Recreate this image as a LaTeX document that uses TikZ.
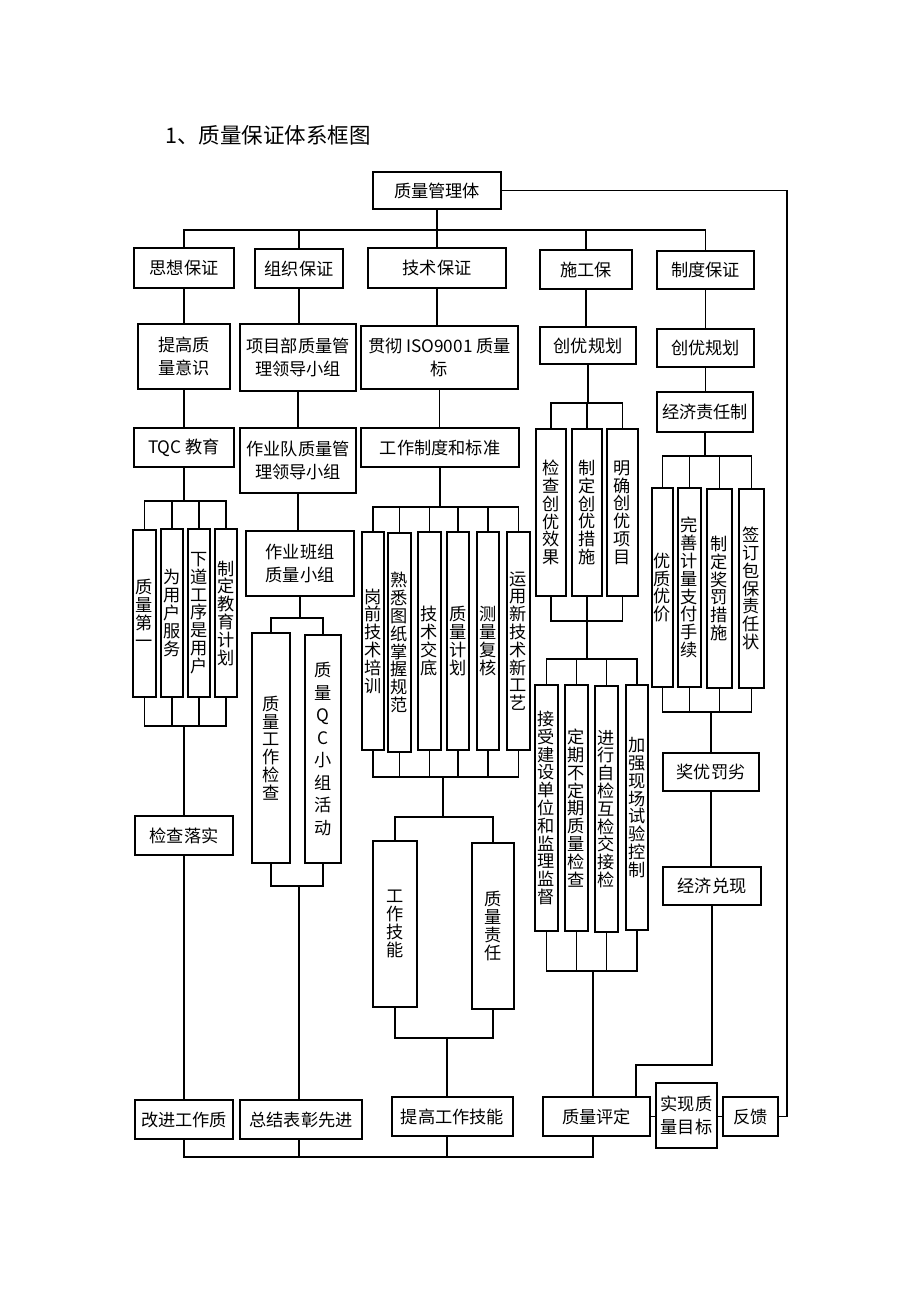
\documentclass[tikz,border=0pt]{standalone}
\usepackage{fontspec}
\newfontfamily\cjk{Noto Sans CJK SC}
\tikzset{
  bx/.style={draw, line width=1.3pt, inner sep=0pt, align=center, font=\cjk\fontsize{17.2}{23}\selectfont},
  vb/.style={bx, font=\cjk\fontsize{17.2}{17.8}\selectfont},
  vbq/.style={bx, font=\cjk\fontsize{17.2}{22.5}\selectfont},
  ln/.style={line width=1.3pt, line cap=rect},
}
\newcommand{\mybox}[7]{\node[#1, minimum width={(#5-#3)*1pt}, minimum height={(#6-#4)*1pt}] (#2) at ({(#3+#5)/2},{(#4+#6)/2}) {#7};}
\newcommand{\fanout}[5]{%
  \coordinate (fy) at (0,#2);
  \draw[ln] (#1.south) -- (#1.south |- fy);
  \draw[ln] (#3.north) |- (#4.north |- fy) -- (#4.north);
  \foreach \c in {#5} {\draw[ln] (\c.north) -- (\c.north |- fy);}
}
\newcommand{\fanin}[4]{%
  \coordinate (fy) at (0,#1);
  \draw[ln] (#2.south) |- (#3.south |- fy) -- (#3.south);
  \foreach \c in {#4} {\draw[ln] (\c.south) -- (\c.south |- fy);}
}
\newcommand{\vdown}[2]{\draw[ln] (#1.south) -- (#1.south |- #2.north);}
\begin{document}
\begin{tikzpicture}[x=1pt,y=-1pt]
\fill[white] (0,0) rectangle (920,1302);
\useasboundingbox (0,0) rectangle (920,1302);

\node[font=\cjk\fontsize{21.5}{24}\selectfont, anchor=west, inner sep=0pt] (title) at (165,135) {1、质量保证体系框图};

\mybox{bx}{A}{373}{172}{501}{209}{质量管理体}

% level 1
\mybox{bx}{s1}{134}{248}{234}{288}{思想保证}
\mybox{bx}{s2}{255}{249}{343}{288}{组织保证}
\mybox{bx}{s3}{368}{248}{506}{288}{技术保证}
\mybox{bx}{s4}{540}{250}{632}{289}{施工保}
\mybox{bx}{s5}{657}{251}{754}{289}{制度保证}
\fanout{A}{230}{s1}{s5}{s2,s3,s4}

% level 2
\mybox{bx}{t1}{138}{324}{230}{389}{提高质\\量意识}
\mybox{bx}{t2}{240}{324}{356}{391}{项目部质量管\\理领导小组}
\mybox{bx}{t3}{361}{326}{518}{389}{贯彻 ISO9001 质量\\标}
\mybox{bx}{t4}{540}{327}{636}{364}{创优规划}
\mybox{bx}{t5}{657}{329}{754}{367}{创优规划}
\vdown{s1}{t1}
\vdown{s2}{t2}
\vdown{s3}{t3}
\vdown{s4}{t4}
\vdown{s5}{t5}

% level 3
\mybox{bx}{u1}{134}{428}{234}{467}{TQC 教育}
\mybox{bx}{u2}{240}{428}{356}{493}{作业队质量管\\理领导小组}
\mybox{bx}{u3}{361}{428}{519}{467}{工作制度和标准}
\mybox{bx}{u5}{657}{392}{753}{432}{经济责任制}
\vdown{t1}{u1}
\vdown{t2}{u2}
\vdown{t3}{u3}
\vdown{t5}{u5}

% thought column
\mybox{vb}{v1}{133}{530}{156}{697}{质\\量\\第\\一}
\mybox{vb}{v2}{161}{529}{183}{697}{为\\用\\户\\服\\务}
\mybox{vb}{v3}{188}{529}{210}{697}{下\\道\\工\\序\\是\\用\\户}
\mybox{vb}{v4}{215}{529}{237}{697}{制\\定\\教\\育\\计\\划}
\fanout{u1}{501}{v1}{v4}{v2,v3}
\fanin{726}{v1}{v4}{v2,v3}
\mybox{bx}{c1}{135}{816}{233}{855}{检查落实}
\coordinate (m1) at (184,726);
\draw[ln] (m1) -- (m1 |- c1.north);

% organisation column
\mybox{bx}{u2b}{246}{531}{354}{596}{作业班组\\质量小组}
\vdown{u2}{u2b}
\mybox{vb}{q1}{252}{633}{290}{863}{质\\量\\工\\作\\检\\查}
\mybox{vbq}{q2}{305}{635}{341}{863}{质\\量\\Q\\C\\小\\组\\活\\动}
\fanout{u2b}{618}{q1}{q2}{}
\fanin{886}{q1}{q2}{}
\coordinate (m2) at (299,886);

% technique column
\mybox{vb}{r1}{362}{532}{384}{750}{岗\\前\\技\\术\\培\\训}
\mybox{vb}{r2}{388}{533}{411}{752}{熟\\悉\\图\\纸\\掌\\握\\规\\范}
\mybox{vb}{r3}{418}{532}{441}{750}{技\\术\\交\\底}
\mybox{vb}{r4}{447}{532}{469}{750}{质\\量\\计\\划}
\mybox{vb}{r5}{477}{532}{499}{750}{测\\量\\复\\核}
\mybox{vb}{r6}{507}{532}{530}{750}{运\\用\\新\\技\\术\\新\\工\\艺}
\fanout{u3}{507}{r1}{r6}{r2,r3,r4,r5}
\fanin{777}{r1}{r6}{r2,r3,r4,r5}
\mybox{vb}{k1}{373}{841}{417}{1007}{工\\作\\技\\能}
\mybox{vb}{k2}{472}{843}{514}{1009}{质\\量\\责\\任}
\coordinate (m3) at (443,777);
\coordinate (k0) at (0,817);
\draw[ln] (m3) -- (m3 |- k0);
\draw[ln] (k1.north) |- (k2.north |- k0) -- (k2.north);
\fanin{1038}{k1}{k2}{}
\coordinate (m3b) at (447,1038);

% construction column
\mybox{vb}{w1}{536}{429}{566}{596}{检\\查\\创\\优\\效\\果}
\mybox{vb}{w2}{572}{429}{602}{596}{制\\定\\创\\优\\措\\施}
\mybox{vb}{w3}{607}{429}{638}{596}{明\\确\\创\\优\\项\\目}
\fanout{t4}{403}{w1}{w3}{w2}
\fanin{621}{w1}{w3}{w2}
\mybox{vb}{x1}{535}{685}{558}{931}{接\\受\\建\\设\\单\\位\\和\\监\\理\\监\\督}
\mybox{vb}{x2}{565}{685}{588}{931}{定\\期\\不\\定\\期\\质\\量\\检\\查}
\mybox{vb}{x3}{595}{686}{618}{932}{进\\行\\自\\检\\互\\检\\交\\接\\检}
\mybox{vb}{x4}{626}{685}{648}{930}{加\\强\\现\\场\\试\\验\\控\\制}
\coordinate (m4) at (587,621);
\coordinate (x0) at (0,659);
\draw[ln] (m4) -- (m4 |- x0);
\draw[ln] (x1.north) |- (x4.north |- x0) -- (x4.north);
\foreach \c in {x2,x3} {\draw[ln] (\c.north) -- (\c.north |- x0);}
\fanin{971}{x1}{x4}{x2,x3}
\coordinate (m5) at (593,971);

% system column
\mybox{vb}{y1}{652}{488}{673}{687}{优\\质\\优\\价}
\mybox{vb}{y2}{678}{488}{701}{687}{完\\善\\计\\量\\支\\付\\手\\续}
\mybox{vb}{y3}{707}{489}{732}{688}{制\\定\\奖\\罚\\措\\施}
\mybox{vb}{y4}{739}{489}{764}{688}{签\\订\\包\\保\\责\\任\\状}
\fanout{u5}{456}{y1}{y4}{y2,y3}
\fanin{712}{y1}{y4}{y2,y3}
\mybox{bx}{z1}{663}{753}{759}{791}{奖优罚劣}
\mybox{bx}{z2}{663}{867}{761}{905}{经济兑现}
\coordinate (m6) at (711,712);
\draw[ln] (m6) -- (m6 |- z1.north);
\vdown{z1}{z2}

% bottom row
\mybox{bx}{b1}{135}{1100}{233}{1139}{改进工作质}
\mybox{bx}{b2}{240}{1100}{362}{1139}{总结表彰先进}
\mybox{bx}{b3}{392}{1097}{513}{1136}{提高工作技能}
\mybox{bx}{b4}{543}{1097}{650}{1136}{质量评定}
\mybox{bx}{b5}{656}{1083}{717}{1148}{实现质\\量目标}
\mybox{bx}{b6}{723}{1097}{778}{1136}{反馈}

\draw[ln] (c1.south) -- (c1.south |- b1.north);
\draw[ln] (m2) -- (m2 |- b2.north);
\draw[ln] (m3b) -- (m3b |- b3.north);
\draw[ln] (m5) -- (m5 |- b4.north);
\coordinate (jb) at (636,1065);
\draw[ln] (z2.south) |- (jb) -- (jb |- b4.north);

\coordinate (bb) at (0,1157);
\draw[ln] (b1.south) |- (m5 |- bb) -- (m5 |- b4.south);
\draw[ln] (m2 |- b2.south) -- (m2 |- bb);
\draw[ln] (m3b |- b3.south) -- (m3b |- bb);

\draw[ln] (b4.east) -- (b5.west |- b4.east);
\draw[ln] (b5.east |- b6.west) -- (b6.west);

\coordinate (fbx) at (787,0);
\draw[ln] (A.east) -| (fbx |- b6.east) -- (b6.east);
\end{tikzpicture}
\end{document}
